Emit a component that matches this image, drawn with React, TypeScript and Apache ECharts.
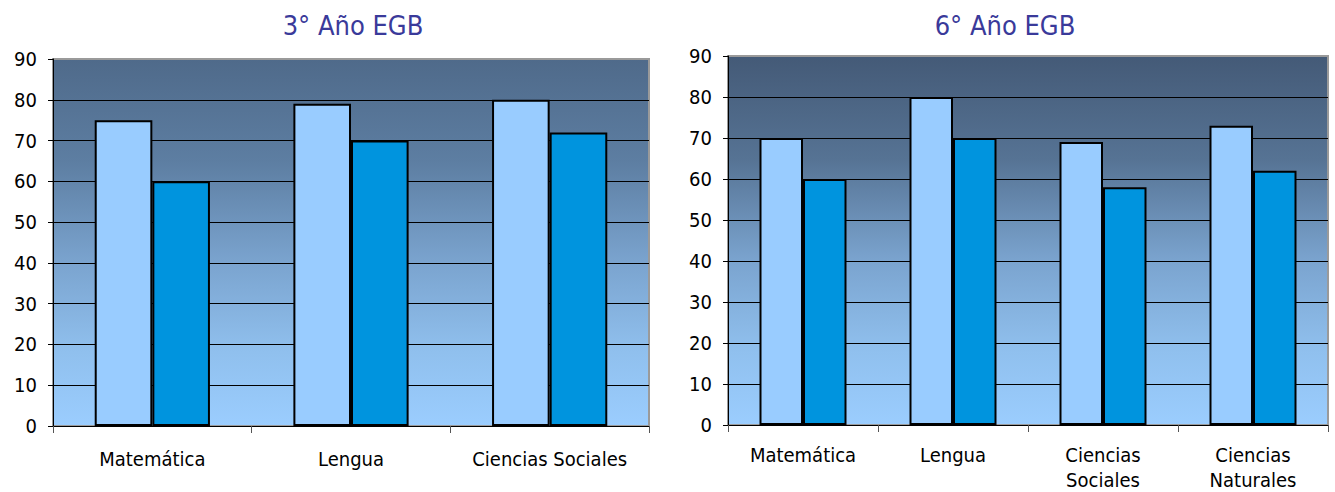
import React, { useEffect, useRef } from "react";
import * as echarts from "echarts";

const categories3 = ["Matemática", "Lengua", "Ciencias Sociales"];
const seriesA3 = [75, 79, 80];
const seriesB3 = [60, 70, 72];

const categories6 = ["Matemática", "Lengua", "Ciencias\nSociales", "Ciencias\nNaturales"];
const seriesA6 = [70, 80, 69, 73];
const seriesB6 = [60, 70, 58, 62];

const titles = ["3° Año EGB", "6° Año EGB"];

const FONT = "'DejaVu Sans Condensed', 'DejaVu Sans', sans-serif";
const LIGHT = "#99CCFF";
const DARK = "#0094DE";

function grad(top: string, upper: string) {
  return {
    type: "linear",
    x: 0,
    y: 0,
    x2: 0,
    y2: 1,
    colorStops: [
      { offset: 0, color: top },
      { offset: 0.28, color: upper },
      { offset: 0.55, color: "#7AA3CE" },
      { offset: 0.8, color: "#90C0EE" },
      { offset: 1, color: "#9BCDFE" },
    ],
  };
}

function yAxis(gridIndex: number) {
  return {
    type: "value",
    gridIndex,
    min: 0,
    max: 90,
    interval: 10,
    axisLine: { show: true, lineStyle: { color: "#000", width: 1 } },
    axisTick: { show: true, length: 5, lineStyle: { color: "#000" } },
    axisLabel: { color: "#000", fontSize: 20, fontFamily: FONT, margin: 16 },
    splitLine: { show: true, showMaxLine: false, lineStyle: { color: "#000", width: 1 } },
  };
}

function xAxis(gridIndex: number, data: string[], margin: number) {
  return {
    type: "category",
    gridIndex,
    data,
    axisLine: { show: true, lineStyle: { color: "#000", width: 1 } },
    axisTick: { show: true, length: 7, lineStyle: { color: "#555" } },
    axisLabel: {
      color: "#000",
      fontSize: 20,
      fontFamily: FONT,
      margin,
      lineHeight: 25,
      interval: 0,
    },
  };
}

function bar(data: number[], color: string, idx: number) {
  return {
    type: "bar",
    xAxisIndex: idx,
    yAxisIndex: idx,
    data,
    barGap: "0%",
    barCategoryGap: "42%",
    itemStyle: { color, borderColor: "#000", borderWidth: 2 },
  };
}

export default function App() {
  const ref = useRef<HTMLDivElement>(null);
  useEffect(() => {
    if (!ref.current) return;
    const chart = echarts.init(ref.current, undefined, { renderer: "svg" });
    chart.setOption({
      animation: false,
      backgroundColor: "#fff",
      graphic: [
        {
          type: "text",
          x: 353,
          y: 25,
          style: {
            text: titles[0],
            fill: "#3A3A9A",
            font: `27px ${FONT}`,
            textAlign: "center",
            textVerticalAlign: "middle",
          },
        },
        {
          type: "text",
          x: 1005,
          y: 25,
          style: {
            text: titles[1],
            fill: "#3A3A9A",
            font: `27px ${FONT}`,
            textAlign: "center",
            textVerticalAlign: "middle",
          },
        },
      ],
      grid: [
        {
          left: 53,
          top: 59,
          width: 596,
          height: 367,
          show: true,
          containLabel: false,
          outerBoundsMode: "none",
          backgroundColor: grad("#4F6A8A", "#5D7EA2"),
          borderColor: "#9A9A9A",
          borderWidth: 2,
        },
        {
          left: 728,
          top: 56,
          width: 600,
          height: 369,
          show: true,
          containLabel: false,
          outerBoundsMode: "none",
          backgroundColor: grad("#445A77", "#567394"),
          borderColor: "#9A9A9A",
          borderWidth: 2,
        },
      ],
      xAxis: [xAxis(0, categories3, 20), xAxis(1, categories6, 17)],
      yAxis: [yAxis(0), yAxis(1)],
      series: [
        bar(seriesA3, LIGHT, 0),
        bar(seriesB3, DARK, 0),
        bar(seriesA6, LIGHT, 1),
        bar(seriesB6, DARK, 1),
      ],
    });
    return () => chart.dispose();
  }, []);
  return (
    <div
      ref={ref}
      style={{ position: "absolute", left: 0, top: 0, width: 1335, height: 492 }}
    />
  );
}
